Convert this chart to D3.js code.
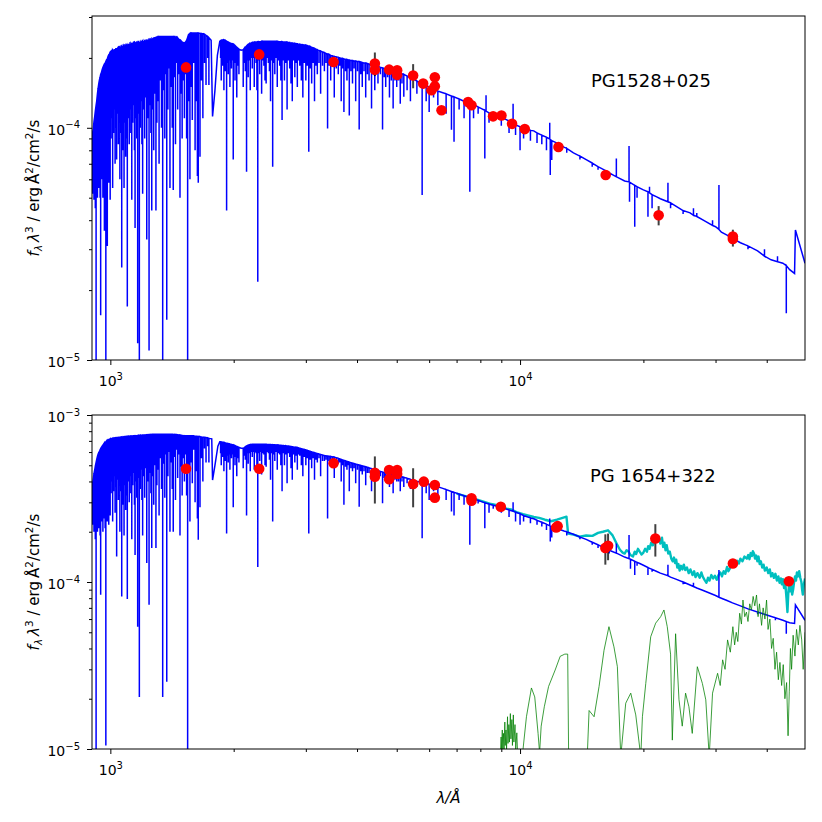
<!DOCTYPE html>
<html lang="en">
<head>
<meta charset="UTF-8">
<meta name="viewport" content="width=device-width, initial-scale=1.0">
<title>SED fits: PG1528+025 and PG 1654+322</title>
<script src="https://d3js.org/d3.v7.min.js"></script>
<style>
    body {
        margin: 0;
        background: #fff;
    }

    svg {
        display: block;
        font-family: "DejaVu Sans", sans-serif;
    }
</style>
</head>
<body>
<svg id="chart" width="822" height="822"></svg>
<script>
    // ---- data ------------------------------------------------------------
    // model spectra: [lambda, flux] is a plain point, [lambda, flux, lineFlux] is a line spike
    const topModel = [
        [902, 0.91e-4, 0.6e-4], [905, 0.95e-4, 0.52e-4], [909, 1.0e-4, 0.7e-4], [912, 1.06e-4, 0.49e-4],
        [916, 1.12e-4, 0.62e-4], [919, 1.18e-4, 0.45e-4], [923, 1.25e-4, 0.05e-4], [926, 1.3e-4, 0.6e-4],
        [930, 1.4e-4, 0.5e-4], [933, 1.47e-4, 0.7e-4], [937, 1.55e-4, 0.55e-4], [940, 1.6e-4, 0.65e-4],
        [944, 1.65e-4, 0.5e-4], [947, 1.7e-4, 0.156e-4], [951, 1.73e-4, 0.6e-4], [955, 1.78e-4, 0.68e-4],
        [959, 1.82e-4, 0.5e-4], [963, 1.85e-4, 0.72e-4], [967, 1.88e-4, 0.36e-4], [971, 1.9e-4, 0.55e-4],
        [975, 1.93e-4, 0.05e-4], [979, 1.96e-4, 0.7e-4], [983, 1.98e-4, 0.31e-4], [987, 2.03e-4, 0.75e-4],
        [991, 2.06e-4, 0.58e-4], [995, 2.08e-4, 0.8e-4], [999, 2.12e-4, 0.49e-4],
        [1004, 2.14e-4, 0.9e-4], [1009, 2.1e-4, 1.1e-4], [1013, 2.16e-4, 0.55e-4], [1018, 2.13e-4, 0.95e-4],
        [1023, 2.18e-4, 1.2e-4], [1027, 2.15e-4, 0.7e-4], [1032, 2.2e-4, 1.0e-4], [1036, 2.17e-4, 0.73e-4],
        [1041, 2.2e-4, 1.15e-4], [1046, 2.22e-4, 0.85e-4], [1050, 2.19e-4, 1.05e-4], [1055, 2.22e-4, 0.6e-4],
        [1060, 2.2e-4, 0.95e-4], [1066, 2.24e-4, 0.25e-4], [1070, 2.22e-4, 1.1e-4], [1075, 2.25e-4, 0.8e-4],
        [1080, 2.23e-4, 0.55e-4], [1085, 2.26e-4, 1.05e-4], [1090, 2.24e-4, 0.75e-4], [1095, 2.27e-4, 0.9e-4],
        [1100, 2.27e-4, 0.17e-4], [1106, 2.28e-4, 1.1e-4], [1112, 2.27e-4, 0.85e-4], [1117, 2.3e-4, 1.2e-4],
        [1122, 2.28e-4, 0.95e-4], [1128, 2.3e-4, 0.49e-4], [1134, 2.29e-4, 1.05e-4], [1140, 2.32e-4, 1.25e-4],
        [1145, 2.3e-4, 0.8e-4], [1149, 2.33e-4, 0.37e-4], [1155, 2.31e-4, 1.1e-4], [1160, 2.33e-4, 0.9e-4],
        [1166, 2.32e-4, 0.118e-4], [1171, 2.34e-4, 1.15e-4], [1177, 2.33e-4, 0.05e-4], [1183, 2.34e-4, 1.0e-4],
        [1189, 2.35e-4, 1.3e-4], [1194, 2.33e-4, 0.85e-4], [1199, 2.36e-4, 0.52e-4], [1206, 2.34e-4, 1.2e-4],
        [1213, 2.37e-4, 0.9e-4], [1220, 2.36e-4, 1.35e-4], [1227, 2.38e-4, 0.33e-4], [1234, 2.37e-4, 1.1e-4],
        [1243, 2.4e-4, 0.11e-4], [1250, 2.38e-4, 1.25e-4], [1256, 2.41e-4, 0.95e-4], [1262, 2.4e-4, 0.44e-4],
        [1269, 2.42e-4, 1.2e-4], [1276, 2.43e-4, 0.8e-4], [1284, 2.44e-4, 1.4e-4], [1292, 2.45e-4, 0.44e-4],
        [1299, 2.46e-4, 1.05e-4], [1307, 2.47e-4, 1.3e-4], [1315, 2.47e-4, 0.7e-4], [1324, 2.47e-4, 1.6e-4],
        [1333, 2.47e-4, 1.0e-4], [1342, 2.47e-4, 0.05e-4], [1350, 2.47e-4, 1.45e-4], [1358, 2.47e-4, 0.9e-4],
        [1366, 2.47e-4, 1.7e-4], [1373, 2.47e-4, 0.149e-4], [1382, 2.47e-4, 1.2e-4], [1390, 2.47e-4, 1.8e-4],
        [1398, 2.47e-4, 0.55e-4], [1407, 2.47e-4, 1.5e-4], [1416, 2.47e-4, 1.0e-4], [1424, 2.47e-4, 0.54e-4],
        [1433, 2.47e-4, 1.65e-4], [1442, 2.46e-4, 0.85e-4], [1450, 2.46e-4, 1.9e-4], [1460, 2.44e-4, 1.2e-4],
        [1470, 2.4e-4, 1.7e-4], [1479, 2.39e-4, 0.5e-4], [1488, 2.37e-4, 1.4e-4], [1497, 2.34e-4, 0.9e-4],
        [1506, 2.33e-4, 1.6e-4], [1516, 2.32e-4, 1.1e-4], [1526, 2.34e-4, 1.7e-4], [1535, 2.38e-4, 0.9e-4],
        [1544, 2.45e-4, 0.05e-4], [1552, 2.52e-4, 1.3e-4], [1564, 2.55e-4, 0.6e-4], [1574, 2.56e-4, 1.5e-4],
        [1585, 2.56e-4, 1.08e-4], [1597, 2.56e-4, 1.9e-4], [1610, 2.56e-4, 0.8e-4], [1622, 2.56e-4, 1.3e-4],
        [1631, 2.56e-4, 0.62e-4], [1639, 2.56e-4, 0.58e-4], [1655, 2.55e-4, 0.75e-4], [1668, 2.55e-4, 1.6e-4],
        [1682, 2.54e-4, 1.1e-4], [1697, 2.53e-4, 1.9e-4], [1712, 2.5e-4, 1.53e-4], [1728, 2.47e-4, 2.0e-4],
        [1740, 2.44e-4, 1.53e-4], [1762, 2.38e-4], [1776, 1.12e-4], [1800, 1.45e-4], [1825, 2.05e-4],
        [1850, 2.36e-4], [1858, 2.37e-4, 2.0e-4], [1865, 2.38e-4, 1.6e-4], [1872, 2.38e-4, 1.95e-4],
        [1880, 2.39e-4, 1.85e-4], [1887, 2.39e-4, 2.05e-4], [1893, 2.39e-4, 1.45e-4], [1900, 2.38e-4, 1.9e-4],
        [1908, 2.38e-4, 1.75e-4], [1915, 2.37e-4, 2.0e-4], [1922, 2.36e-4, 0.44e-4], [1931, 2.35e-4, 1.9e-4],
        [1940, 2.34e-4, 1.7e-4], [1949, 2.33e-4, 1.95e-4], [1958, 2.32e-4, 1.5e-4], [1967, 2.31e-4, 1.9e-4],
        [1975, 2.3e-4, 1.8e-4], [1985, 2.3e-4, 1.95e-4], [1995, 2.29e-4, 0.73e-4], [2005, 2.28e-4, 1.9e-4],
        [2015, 2.26e-4, 1.6e-4], [2025, 2.24e-4, 1.9e-4], [2035, 2.22e-4, 1.35e-4], [2048, 2.2e-4, 1.85e-4],
        [2060, 2.18e-4, 1.7e-4], [2085, 2.16e-4], [2110, 2.17e-4, 1.5e-4], [2122, 2.2e-4, 1.9e-4],
        [2135, 2.22e-4, 1.75e-4], [2150, 2.25e-4, 0.647e-4], [2160, 2.27e-4, 1.95e-4], [2170, 2.28e-4, 1.65e-4],
        [2182, 2.3e-4, 1.95e-4], [2195, 2.31e-4, 1.45e-4], [2207, 2.32e-4, 2.0e-4], [2220, 2.33e-4, 1.8e-4],
        [2232, 2.33e-4, 2.0e-4], [2245, 2.34e-4, 1.5e-4], [2256, 2.34e-4, 2.0e-4], [2268, 2.34e-4, 1.9e-4],
        [2279, 2.34e-4, 1.45e-4], [2290, 2.35e-4, 0.217e-4], [2302, 2.35e-4, 1.95e-4], [2315, 2.35e-4, 1.7e-4],
        [2328, 2.35e-4, 2.0e-4], [2340, 2.36e-4, 1.4e-4], [2355, 2.36e-4, 1.95e-4], [2370, 2.36e-4, 1.85e-4],
        [2385, 2.36e-4, 1.6e-4], [2400, 2.36e-4, 1.55e-4], [2415, 2.36e-4, 2.0e-4], [2430, 2.36e-4, 1.9e-4],
        [2445, 2.36e-4, 1.75e-4], [2460, 2.36e-4, 1.3e-4], [2475, 2.36e-4, 1.95e-4], [2490, 2.36e-4, 0.68e-4],
        [2505, 2.36e-4, 1.9e-4], [2520, 2.36e-4, 1.7e-4], [2537, 2.36e-4, 2.0e-4], [2555, 2.36e-4, 1.5e-4],
        [2572, 2.35e-4, 1.95e-4], [2590, 2.35e-4, 1.85e-4], [2607, 2.35e-4, 1.6e-4], [2625, 2.35e-4, 1.08e-4],
        [2642, 2.34e-4, 1.95e-4], [2660, 2.34e-4, 1.6e-4], [2680, 2.34e-4, 1.9e-4], [2700, 2.34e-4, 1.2e-4],
        [2720, 2.33e-4, 1.95e-4], [2740, 2.33e-4, 1.8e-4], [2760, 2.32e-4, 1.55e-4], [2780, 2.32e-4, 1.3e-4],
        [2800, 2.31e-4, 1.95e-4], [2820, 2.31e-4, 1.65e-4], [2840, 2.3e-4, 1.9e-4], [2860, 2.3e-4, 1.5e-4],
        [2880, 2.29e-4, 1.95e-4], [2900, 2.29e-4, 1.85e-4], [2925, 2.28e-4, 1.6e-4], [2950, 2.28e-4, 1.35e-4],
        [2975, 2.27e-4, 1.9e-4], [3000, 2.27e-4, 1.6e-4], [3025, 2.26e-4, 1.85e-4], [3050, 2.25e-4, 0.788e-4],
        [3075, 2.24e-4, 1.8e-4], [3100, 2.22e-4, 1.55e-4], [3125, 2.21e-4, 1.9e-4], [3150, 2.2e-4, 1.3e-4],
        [3175, 2.18e-4, 1.85e-4], [3200, 2.17e-4, 1.7e-4], [3230, 2.15e-4, 1.9e-4], [3260, 2.14e-4, 1.4e-4],
        [3295, 2.12e-4, 1.85e-4], [3330, 2.11e-4, 1.75e-4], [3360, 2.09e-4, 1.9e-4], [3390, 2.08e-4, 0.994e-4],
        [3420, 2.07e-4, 1.85e-4], [3450, 2.05e-4, 1.6e-4], [3485, 2.04e-4, 1.85e-4], [3520, 2.03e-4, 1.35e-4],
        [3560, 2.02e-4, 1.8e-4], [3600, 2.01e-4, 1.7e-4], [3630, 2.0e-4, 1.85e-4], [3660, 1.99e-4, 1.3e-4],
        [3690, 1.99e-4, 1.8e-4], [3716, 1.98e-4, 1.17e-4], [3750, 1.97e-4, 1.75e-4], [3780, 1.97e-4, 1.6e-4],
        [3805, 1.96e-4, 1.8e-4], [3830, 1.96e-4, 1.13e-4], [3865, 1.95e-4, 1.75e-4], [3900, 1.95e-4, 1.55e-4],
        [3935, 1.94e-4, 1.8e-4], [3970, 1.94e-4, 1.3e-4], [4010, 1.93e-4, 1.75e-4], [4049, 1.93e-4, 0.984e-4],
        [4085, 1.92e-4, 1.7e-4], [4120, 1.91e-4, 1.5e-4], [4160, 1.9e-4, 1.75e-4], [4200, 1.9e-4, 1.35e-4],
        [4240, 1.89e-4, 1.7e-4], [4280, 1.88e-4, 1.6e-4], [4340, 1.87e-4, 1.21e-4], [4380, 1.86e-4, 1.7e-4],
        [4420, 1.85e-4, 1.45e-4], [4460, 1.84e-4, 1.7e-4], [4500, 1.84e-4, 1.55e-4], [4560, 1.82e-4, 1.7e-4],
        [4617, 1.81e-4, 0.984e-4], [4660, 1.8e-4, 1.65e-4], [4700, 1.79e-4, 1.5e-4], [4750, 1.78e-4, 1.65e-4],
        [4800, 1.77e-4, 1.35e-4], [4850, 1.76e-4, 1.6e-4], [4900, 1.76e-4, 1.21e-4], [4950, 1.75e-4, 1.6e-4],
        [5000, 1.74e-4, 1.5e-4], [5050, 1.73e-4, 1.6e-4], [5100, 1.72e-4, 1.27e-4], [5150, 1.71e-4, 1.55e-4],
        [5203, 1.7e-4, 1.36e-4], [5300, 1.67e-4, 1.45e-4], [5400, 1.64e-4, 1.3e-4], [5500, 1.62e-4],
        [5600, 1.59e-4, 1.4e-4], [5768, 1.55e-4, 0.513e-4], [5900, 1.52e-4, 1.3e-4], [6000, 1.5e-4, 1.17e-4],
        [6150, 1.47e-4, 1.35e-4], [6300, 1.44e-4, 1.25e-4], [6450, 1.42e-4], [6600, 1.4e-4, 1.15e-4],
        [6801, 1.37e-4, 0.98e-4], [6900, 1.36e-4, 0.87e-4], [7100, 1.33e-4, 1.2e-4], [7300, 1.3e-4, 1.1e-4],
        [7540, 1.28e-4, 0.53e-4], [7700, 1.26e-4, 1.1e-4], [7900, 1.23e-4, 1.15e-4], [8050, 1.21e-4],
        [8203, 1.19e-4, 0.738e-4], [8260, 1.18e-4, 1.38e-4], [8400, 1.16e-4, 1.05e-4], [8600, 1.14e-4, 1.08e-4],
        [8800, 1.13e-4], [9000, 1.11e-4, 1.02e-4], [9200, 1.09e-4], [9400, 1.07e-4, 0.95e-4],
        [9616, 1.05e-4, 1.27e-4], [9750, 1.03e-4, 0.93e-4], [10000, 1.01e-4, 0.8e-4], [10200, 0.995e-4, 0.9e-4],
        [10400, 0.985e-4], [10600, 0.975e-4, 0.88e-4], [10800, 0.97e-4], [11000, 0.95e-4, 0.86e-4],
        [11300, 0.93e-4, 0.85e-4], [11600, 0.91e-4, 0.8e-4], [11815, 0.895e-4, 1.05e-4], [11850, 0.89e-4, 0.626e-4],
        [11950, 0.88e-4, 0.726e-4], [12200, 0.865e-4], [12500, 0.845e-4], [12800, 0.825e-4],
        [13000, 0.815e-4, 0.78e-4], [13500, 0.78e-4], [14000, 0.755e-4, 0.73e-4], [14500, 0.73e-4],
        [15000, 0.705e-4, 0.68e-4], [15500, 0.68e-4, 0.66e-4], [16000, 0.66e-4], [16500, 0.64e-4, 0.61e-4],
        [17180, 0.615e-4, 0.738e-4], [17300, 0.612e-4], [18000, 0.59e-4], [18450, 0.585e-4, 0.834e-4],
        [18500, 0.583e-4, 0.48e-4], [19050, 0.565e-4, 0.375e-4], [19300, 0.558e-4, 0.5e-4], [19600, 0.55e-4],
        [20000, 0.54e-4], [20520, 0.53e-4, 0.414e-4], [20700, 0.525e-4, 0.557e-4], [21000, 0.515e-4, 0.45e-4],
        [21500, 0.505e-4], [22000, 0.495e-4], [22960, 0.48e-4, 0.58e-4], [23300, 0.475e-4, 0.45e-4],
        [24000, 0.46e-4], [25000, 0.44e-4, 0.425e-4], [26000, 0.43e-4], [26500, 0.42e-4, 0.45e-4],
        [27000, 0.415e-4, 0.43e-4], [28000, 0.4e-4], [29500, 0.38e-4, 0.4e-4], [30000, 0.375e-4],
        [30580, 0.365e-4, 0.567e-4], [31000, 0.355e-4], [32000, 0.345e-4], [33000, 0.334e-4],
        [34500, 0.32e-4], [36000, 0.31e-4, 0.3e-4], [38000, 0.295e-4], [39500, 0.28e-4, 0.3e-4],
        [41000, 0.27e-4], [42500, 0.265e-4, 0.28e-4], [43800, 0.261e-4], [44650, 0.255e-4, 0.159e-4],
        [45500, 0.245e-4], [46770, 0.236e-4], [47000, 0.363e-4], [49600, 0.261e-4]
    ];

    const bottomModel = [
        [902, 3.65e-4, 2.6e-4], [905, 3.9e-4, 2.2e-4], [909, 4.2e-4, 2.7e-4], [912, 4.45e-4, 2.0e-4],
        [916, 4.7e-4, 2.5e-4], [919, 4.95e-4, 1.8e-4], [923, 5.2e-4, 0.05e-4], [926, 5.4e-4, 2.4e-4],
        [930, 5.65e-4, 2.0e-4], [933, 5.8e-4, 2.8e-4], [937, 5.95e-4, 2.1e-4], [940, 6.05e-4, 2.6e-4],
        [944, 6.17e-4, 1.9e-4], [947, 6.3e-4, 0.84e-4], [951, 6.4e-4, 2.3e-4], [955, 6.5e-4, 2.7e-4],
        [959, 6.6e-4, 2.0e-4], [963, 6.7e-4, 2.9e-4], [967, 6.8e-4, 2.4e-4], [971, 6.85e-4, 2.1e-4],
        [975, 6.9e-4, 0.105e-4], [979, 7.0e-4, 2.8e-4], [983, 7.05e-4, 2.3e-4], [987, 7.1e-4, 3.0e-4],
        [991, 7.12e-4, 2.2e-4], [995, 7.15e-4, 3.2e-4], [999, 7.2e-4, 2.5e-4],
        [1004, 7.22e-4, 3.4e-4], [1009, 7.2e-4, 4.0e-4], [1013, 7.25e-4, 2.3e-4], [1018, 7.23e-4, 3.5e-4],
        [1023, 7.28e-4, 4.3e-4], [1027, 7.25e-4, 2.6e-4], [1032, 7.3e-4, 3.7e-4], [1036, 7.28e-4, 1.42e-4],
        [1041, 7.32e-4, 4.1e-4], [1046, 7.33e-4, 3.1e-4], [1050, 7.3e-4, 3.8e-4], [1055, 7.35e-4, 2.0e-4],
        [1060, 7.33e-4, 3.5e-4], [1066, 7.38e-4, 0.82e-4], [1070, 7.36e-4, 4.0e-4], [1075, 7.4e-4, 2.9e-4],
        [1080, 7.38e-4, 1.9e-4], [1085, 7.42e-4, 3.8e-4], [1090, 7.4e-4, 2.7e-4], [1095, 7.43e-4, 3.3e-4],
        [1100, 7.42e-4, 0.79e-4], [1106, 7.45e-4, 4.0e-4], [1112, 7.44e-4, 3.0e-4], [1117, 7.47e-4, 4.3e-4],
        [1122, 7.45e-4, 3.4e-4], [1128, 7.48e-4, 1.8e-4], [1134, 7.46e-4, 3.8e-4], [1140, 7.5e-4, 4.5e-4],
        [1145, 7.48e-4, 2.9e-4], [1149, 7.5e-4, 1.45e-4], [1155, 7.5e-4, 4.0e-4], [1160, 7.52e-4, 3.2e-4],
        [1166, 7.52e-4, 0.54e-4], [1171, 7.55e-4, 4.2e-4], [1177, 7.54e-4, 0.205e-4], [1183, 7.56e-4, 3.6e-4],
        [1189, 7.57e-4, 4.7e-4], [1194, 7.56e-4, 3.1e-4], [1199, 7.58e-4, 1.9e-4], [1206, 7.58e-4, 4.3e-4],
        [1213, 7.6e-4, 3.2e-4], [1220, 7.6e-4, 4.8e-4], [1227, 7.62e-4, 1.3e-4], [1234, 7.62e-4, 4.0e-4],
        [1243, 7.64e-4, 0.73e-4], [1250, 7.64e-4, 4.5e-4], [1256, 7.65e-4, 3.4e-4], [1262, 7.65e-4, 1.6e-4],
        [1269, 7.66e-4, 4.3e-4], [1276, 7.66e-4, 2.9e-4], [1284, 7.66e-4, 5.0e-4], [1292, 7.66e-4, 1.6e-4],
        [1299, 7.66e-4, 3.8e-4], [1307, 7.66e-4, 4.7e-4], [1315, 7.66e-4, 2.5e-4], [1324, 7.66e-4, 5.5e-4],
        [1333, 7.66e-4, 3.6e-4], [1342, 7.66e-4, 0.205e-4], [1350, 7.66e-4, 5.1e-4], [1358, 7.66e-4, 3.2e-4],
        [1366, 7.66e-4, 5.8e-4], [1373, 7.66e-4, 0.253e-4], [1382, 7.66e-4, 4.3e-4], [1390, 7.66e-4, 6.0e-4],
        [1398, 7.66e-4, 2.0e-4], [1407, 7.66e-4, 5.2e-4], [1416, 7.66e-4, 3.6e-4], [1424, 7.65e-4, 2.0e-4],
        [1433, 7.65e-4, 5.6e-4], [1442, 7.64e-4, 3.1e-4], [1450, 7.64e-4, 6.2e-4], [1460, 7.62e-4, 4.2e-4],
        [1470, 7.6e-4, 5.8e-4], [1479, 7.59e-4, 1.9e-4], [1488, 7.57e-4, 4.9e-4], [1497, 7.55e-4, 3.3e-4],
        [1506, 7.53e-4, 5.5e-4], [1516, 7.52e-4, 4.0e-4], [1526, 7.5e-4, 5.8e-4], [1535, 7.5e-4, 3.3e-4],
        [1544, 7.5e-4, 0.05e-4], [1552, 7.5e-4, 4.6e-4], [1564, 7.5e-4, 2.3e-4], [1574, 7.5e-4, 5.2e-4],
        [1585, 7.5e-4, 3.9e-4], [1597, 7.5e-4, 6.2e-4], [1610, 7.48e-4, 3.0e-4], [1622, 7.46e-4, 4.6e-4],
        [1631, 7.45e-4, 2.4e-4], [1639, 7.44e-4, 1.79e-4], [1655, 7.42e-4, 2.8e-4], [1668, 7.4e-4, 5.5e-4],
        [1682, 7.38e-4, 4.0e-4], [1697, 7.35e-4, 6.3e-4], [1712, 7.32e-4, 5.2e-4], [1728, 7.3e-4, 6.5e-4],
        [1740, 7.25e-4, 5.2e-4], [1768, 7.2e-4], [1776, 4.08e-4], [1800, 5.0e-4], [1830, 6.5e-4],
        [1850, 6.92e-4], [1858, 6.91e-4, 5.9e-4], [1865, 6.9e-4, 5.0e-4], [1872, 6.89e-4, 5.8e-4],
        [1880, 6.88e-4, 5.6e-4], [1887, 6.87e-4, 6.0e-4], [1893, 6.85e-4, 4.6e-4], [1900, 6.84e-4, 5.7e-4],
        [1908, 6.82e-4, 5.3e-4], [1915, 6.8e-4, 5.9e-4], [1922, 6.78e-4, 1.95e-4], [1931, 6.76e-4, 5.7e-4],
        [1940, 6.74e-4, 5.2e-4], [1949, 6.72e-4, 5.8e-4], [1958, 6.7e-4, 4.7e-4], [1967, 6.68e-4, 5.7e-4],
        [1975, 6.67e-4, 5.5e-4], [1985, 6.65e-4, 5.8e-4], [1995, 6.62e-4, 2.8e-4], [2005, 6.6e-4, 5.6e-4],
        [2015, 6.55e-4, 5.0e-4], [2025, 6.52e-4, 5.6e-4], [2035, 6.48e-4, 4.3e-4], [2048, 6.44e-4, 5.5e-4],
        [2060, 6.4e-4, 5.2e-4], [2085, 6.33e-4], [2110, 6.32e-4, 4.8e-4], [2122, 6.38e-4, 5.7e-4],
        [2135, 6.45e-4, 5.4e-4], [2150, 6.52e-4, 2.5e-4], [2160, 6.56e-4, 5.9e-4], [2170, 6.6e-4, 5.1e-4],
        [2182, 6.62e-4, 5.9e-4], [2195, 6.65e-4, 4.6e-4], [2207, 6.66e-4, 6.0e-4], [2220, 6.67e-4, 5.6e-4],
        [2232, 6.67e-4, 6.0e-4], [2245, 6.67e-4, 4.7e-4], [2256, 6.67e-4, 6.0e-4], [2268, 6.67e-4, 5.9e-4],
        [2279, 6.67e-4, 4.6e-4], [2290, 6.67e-4, 1.23e-4], [2302, 6.67e-4, 5.9e-4], [2315, 6.67e-4, 5.3e-4],
        [2328, 6.67e-4, 6.0e-4], [2340, 6.67e-4, 4.4e-4], [2355, 6.67e-4, 5.9e-4], [2370, 6.67e-4, 5.8e-4],
        [2385, 6.67e-4, 5.0e-4], [2400, 6.67e-4, 4.9e-4], [2415, 6.66e-4, 6.0e-4], [2430, 6.66e-4, 5.9e-4],
        [2445, 6.65e-4, 5.4e-4], [2460, 6.65e-4, 4.1e-4], [2475, 6.64e-4, 5.9e-4], [2490, 6.64e-4, 2.3e-4],
        [2505, 6.63e-4, 5.8e-4], [2520, 6.63e-4, 5.3e-4], [2537, 6.62e-4, 6.0e-4], [2555, 6.62e-4, 4.7e-4],
        [2572, 6.61e-4, 5.9e-4], [2590, 6.6e-4, 5.8e-4], [2607, 6.59e-4, 5.0e-4], [2625, 6.58e-4, 3.5e-4],
        [2642, 6.57e-4, 5.9e-4], [2660, 6.56e-4, 5.0e-4], [2680, 6.55e-4, 5.8e-4], [2700, 6.53e-4, 3.9e-4],
        [2720, 6.52e-4, 5.9e-4], [2740, 6.5e-4, 5.6e-4], [2760, 6.48e-4, 4.8e-4], [2780, 6.47e-4, 4.1e-4],
        [2800, 6.45e-4, 5.8e-4], [2820, 6.43e-4, 5.2e-4], [2840, 6.41e-4, 5.7e-4], [2860, 6.39e-4, 4.7e-4],
        [2880, 6.36e-4, 5.8e-4], [2900, 6.32e-4, 5.7e-4], [2925, 6.28e-4, 5.0e-4], [2950, 6.25e-4, 4.3e-4],
        [2975, 6.22e-4, 5.6e-4], [3000, 6.18e-4, 5.0e-4], [3025, 6.14e-4, 5.5e-4], [3050, 6.1e-4, 1.95e-4],
        [3075, 6.06e-4, 5.4e-4], [3100, 6.02e-4, 4.8e-4], [3125, 5.98e-4, 5.5e-4], [3150, 5.95e-4, 4.1e-4],
        [3175, 5.92e-4, 5.4e-4], [3200, 5.88e-4, 5.2e-4], [3230, 5.84e-4, 5.5e-4], [3260, 5.8e-4, 4.3e-4],
        [3295, 5.76e-4, 5.3e-4], [3330, 5.72e-4, 5.3e-4], [3360, 5.7e-4, 5.4e-4], [3390, 5.68e-4, 2.4e-4],
        [3420, 5.66e-4, 5.3e-4], [3450, 5.65e-4, 4.9e-4], [3485, 5.62e-4, 5.3e-4], [3520, 5.6e-4, 4.2e-4],
        [3560, 5.55e-4, 5.2e-4], [3600, 5.5e-4, 5.1e-4], [3630, 5.46e-4, 5.2e-4], [3660, 5.42e-4, 4.0e-4],
        [3690, 5.38e-4, 5.0e-4], [3716, 5.35e-4, 2.9e-4], [3750, 5.32e-4, 4.9e-4], [3780, 5.28e-4, 4.7e-4],
        [3805, 5.25e-4, 5.0e-4], [3830, 5.22e-4, 3.5e-4], [3865, 5.18e-4, 4.8e-4], [3900, 5.15e-4, 4.6e-4],
        [3935, 5.12e-4, 4.8e-4], [3970, 5.08e-4, 3.9e-4], [4010, 5.05e-4, 4.7e-4], [4049, 5.02e-4, 2.82e-4],
        [4085, 4.99e-4, 4.6e-4], [4120, 4.96e-4, 4.4e-4], [4160, 4.93e-4, 4.6e-4], [4200, 4.9e-4, 3.8e-4],
        [4240, 4.86e-4, 4.5e-4], [4280, 4.83e-4, 4.5e-4], [4340, 4.77e-4, 3.5e-4], [4380, 4.73e-4, 4.4e-4],
        [4420, 4.7e-4, 4.1e-4], [4460, 4.66e-4, 4.4e-4], [4500, 4.63e-4, 4.3e-4], [4560, 4.59e-4, 4.3e-4],
        [4617, 4.55e-4, 2.96e-4], [4660, 4.52e-4, 4.2e-4], [4700, 4.5e-4, 4.1e-4], [4750, 4.47e-4, 4.2e-4],
        [4800, 4.44e-4, 3.7e-4], [4850, 4.41e-4, 4.1e-4], [4900, 4.38e-4, 3.4e-4], [4950, 4.36e-4, 4.1e-4],
        [5000, 4.34e-4, 4.0e-4], [5050, 4.32e-4, 4.0e-4], [5100, 4.3e-4, 3.5e-4], [5150, 4.27e-4, 4.0e-4],
        [5203, 4.24e-4, 3.7e-4], [5300, 4.18e-4, 3.9e-4], [5400, 4.12e-4, 3.6e-4], [5500, 4.06e-4],
        [5600, 4.0e-4, 3.7e-4], [5768, 3.95e-4, 1.83e-4], [5900, 3.9e-4, 3.4e-4], [6000, 3.85e-4, 3.1e-4],
        [6150, 3.8e-4, 3.5e-4], [6300, 3.72e-4, 3.3e-4], [6450, 3.65e-4], [6600, 3.58e-4, 3.1e-4],
        [6801, 3.48e-4, 2.64e-4], [6900, 3.44e-4, 2.5e-4], [7100, 3.36e-4, 3.1e-4], [7300, 3.28e-4, 2.9e-4],
        [7540, 3.2e-4, 1.67e-4], [7700, 3.15e-4, 2.9e-4], [7900, 3.08e-4, 2.95e-4], [8050, 3.03e-4],
        [8203, 2.98e-4, 2.1e-4], [8400, 2.93e-4, 2.6e-4], [8600, 2.88e-4, 2.75e-4], [8800, 2.84e-4],
        [9000, 2.8e-4, 2.6e-4], [9200, 2.75e-4], [9400, 2.7e-4, 2.45e-4], [9616, 2.65e-4, 3.0e-4],
        [9750, 2.62e-4, 2.3e-4], [10000, 2.56e-4, 2.2e-4], [10200, 2.5e-4, 2.3e-4], [10400, 2.46e-4],
        [10600, 2.42e-4, 2.25e-4], [10800, 2.39e-4], [11000, 2.34e-4, 2.2e-4], [11300, 2.28e-4, 2.15e-4],
        [11600, 2.22e-4, 2.05e-4], [11815, 2.17e-4, 2.4e-4], [11850, 2.16e-4, 1.75e-4], [11950, 2.14e-4, 1.85e-4],
        [12200, 2.1e-4], [12500, 2.06e-4], [12800, 2.02e-4], [13000, 2.0e-4, 1.9e-4], [13500, 1.93e-4],
        [14000, 1.86e-4, 1.8e-4], [14500, 1.8e-4], [15000, 1.73e-4, 1.67e-4], [15500, 1.67e-4, 1.6e-4],
        [16000, 1.61e-4], [16500, 1.55e-4, 1.48e-4], [17180, 1.49e-4, 1.7e-4], [17300, 1.48e-4],
        [18000, 1.41e-4], [18450, 1.38e-4, 1.91e-4], [18600, 1.37e-4, 1.2e-4], [19050, 1.33e-4, 1.1e-4],
        [19300, 1.31e-4, 1.25e-4], [19600, 1.29e-4], [20000, 1.26e-4], [20520, 1.22e-4, 1.1e-4],
        [21000, 1.19e-4, 1.15e-4], [21500, 1.16e-4], [22000, 1.13e-4], [22960, 1.09e-4, 1.27e-4],
        [23300, 1.07e-4], [24000, 1.04e-4], [25000, 1.0e-4, 0.97e-4], [26000, 0.96e-4],
        [26500, 0.94e-4, 0.99e-4], [27000, 0.92e-4], [28000, 0.89e-4], [30000, 0.83e-4],
        [30580, 0.81e-4, 1.18e-4], [31000, 0.8e-4], [32000, 0.775e-4], [33000, 0.75e-4], [34500, 0.72e-4],
        [36000, 0.69e-4], [38000, 0.66e-4, 0.64e-4], [40000, 0.635e-4], [42000, 0.61e-4, 0.59e-4],
        [43800, 0.59e-4], [44650, 0.58e-4, 0.49e-4], [45500, 0.57e-4], [46770, 0.565e-4], [47000, 0.73e-4],
        [49600, 0.59e-4]
    ];

    // composite (primary + companion) for PG 1654+322
    const bottomTotal = [
        [7000, 3.38e-4], [7500, 3.22e-4], [8000, 3.07e-4], [8500, 2.93e-4], [8900, 2.86e-4], [9264, 2.75e-4],
        [9500, 2.72e-4], [9800, 2.62e-4], [10170, 2.55e-4], [10500, 2.5e-4], [10800, 2.45e-4], [11130, 2.42e-4],
        [11500, 2.36e-4], [11900, 2.31e-4], [12300, 2.36e-4], [12700, 2.42e-4], [12980, 2.46e-4], [13100, 1.95e-4],
        [13500, 1.92e-4], [13980, 1.87e-4], [14500, 1.9e-4], [15020, 1.89e-4], [15500, 1.97e-4], [15930, 2.0e-4],
        [16390, 2.04e-4], [16800, 1.91e-4], [17200, 1.7e-4], [17530, 1.56e-4], [17800, 1.5e-4], [18000, 1.48e-4],
        [18200, 1.55e-4], [18400, 1.52e-4], [18600, 1.45e-4], [18860, 1.42e-4], [19050, 1.52e-4], [19200, 1.47e-4],
        [19400, 1.58e-4], [19590, 1.52e-4], [19800, 1.46e-4], [20000, 1.5e-4], [20200, 1.58e-4], [20400, 1.52e-4],
        [20550, 1.64e-4], [20700, 1.58e-4], [20900, 1.72e-4], [21090, 1.66e-4], [21250, 1.8e-4], [21400, 1.87e-4],
        [21600, 1.74e-4], [21800, 1.82e-4], [22000, 1.7e-4], [22200, 1.84e-4], [22350, 1.62e-4], [22500, 1.72e-4],
        [22650, 1.55e-4], [22800, 1.66e-4], [23000, 1.48e-4], [23200, 1.52e-4], [23400, 1.38e-4], [23590, 1.33e-4],
        [23750, 1.4e-4], [23900, 1.3e-4], [24050, 1.36e-4], [24200, 1.22e-4], [24350, 1.28e-4], [24520, 1.17e-4],
        [24700, 1.25e-4], [24900, 1.19e-4], [25100, 1.27e-4], [25300, 1.18e-4], [25550, 1.22e-4], [25800, 1.13e-4],
        [26050, 1.19e-4], [26360, 1.1e-4], [26600, 1.16e-4], [26800, 1.07e-4], [27100, 1.13e-4], [27440, 1.06e-4],
        [27700, 1.14e-4], [27900, 1.08e-4], [28200, 1.03e-4], [28510, 0.99e-4], [28750, 1.06e-4], [29000, 1.02e-4],
        [29300, 1.1e-4], [29600, 1.05e-4], [29900, 1.09e-4], [30200, 1.03e-4], [30500, 1.1e-4], [30820, 1.14e-4],
        [31100, 1.08e-4], [31400, 1.16e-4], [31700, 1.12e-4], [32000, 1.23e-4], [32250, 1.16e-4], [32500, 1.2e-4],
        [32800, 1.27e-4], [33070, 1.24e-4], [33350, 1.31e-4], [33600, 1.25e-4], [33900, 1.34e-4], [34200, 1.29e-4],
        [34500, 1.38e-4], [34900, 1.33e-4], [35300, 1.42e-4], [35770, 1.38e-4], [36050, 1.45e-4], [36300, 1.37e-4],
        [36550, 1.49e-4], [36800, 1.43e-4], [37000, 1.53e-4], [37240, 1.48e-4], [37450, 1.38e-4], [37700, 1.44e-4],
        [37950, 1.33e-4], [38200, 1.42e-4], [38450, 1.28e-4], [38700, 1.33e-4], [39000, 1.22e-4], [39300, 1.27e-4],
        [39600, 1.17e-4], [40000, 1.22e-4], [40350, 1.13e-4], [40700, 1.19e-4], [41000, 1.08e-4], [41300, 1.13e-4],
        [41650, 1.06e-4], [42000, 1.12e-4], [42350, 1.02e-4], [42700, 1.08e-4], [43000, 0.99e-4], [43300, 1.05e-4],
        [43550, 0.97e-4], [43800, 1.04e-4], [44100, 0.92e-4], [44400, 0.98e-4], [44700, 0.8e-4], [44940, 0.66e-4],
        [45150, 0.85e-4], [45400, 1.0e-4], [45650, 0.88e-4], [45900, 0.95e-4], [46150, 0.84e-4], [46400, 0.9e-4],
        [46650, 1.0e-4], [46900, 1.08e-4], [47150, 1.02e-4], [47400, 1.14e-4], [47700, 1.08e-4], [48000, 1.16e-4],
        [48300, 1.06e-4], [48600, 1.0e-4], [48800, 0.9e-4], [49000, 0.84e-4], [49250, 0.96e-4], [49600, 1.05e-4]
    ];

    // cool companion for PG 1654+322
    const bottomCompanion = [
        [8960, 0.095e-4], [8990, 0.118e-4], [9010, 0.098e-4], [9050, 0.13e-4], [9075, 0.1e-4], [9110, 0.124e-4],
        [9140, 0.1e-4], [9180, 0.145e-4], [9200, 0.105e-4], [9240, 0.13e-4], [9270, 0.1e-4], [9320, 0.156e-4],
        [9345, 0.108e-4], [9390, 0.14e-4], [9420, 0.11e-4], [9470, 0.163e-4], [9500, 0.115e-4], [9550, 0.15e-4],
        [9580, 0.105e-4], [9630, 0.16e-4], [9660, 0.11e-4], [9720, 0.14e-4], [9760, 0.1e-4], [9820, 0.125e-4],
        [9870, 0.09e-4], [9990, 0.08e-4], [10170, 0.1e-4], [10366, 0.156e-4], [10660, 0.232e-4], [10860, 0.205e-4],
        [11065, 0.124e-4], [11160, 0.095e-4], [11260, 0.137e-4], [11460, 0.179e-4], [11740, 0.237e-4],
        [12180, 0.297e-4], [12530, 0.359e-4], [12860, 0.37e-4], [13070, 0.37e-4], [13140, 0.09e-4],
        [14600, 0.095e-4], [14740, 0.17e-4], [15160, 0.156e-4], [15590, 0.237e-4], [16030, 0.39e-4],
        [16480, 0.54e-4], [16950, 0.409e-4], [17280, 0.311e-4], [17610, 0.09e-4], [18110, 0.188e-4],
        [18630, 0.216e-4], [19160, 0.16e-4], [19710, 0.09e-4], [19890, 0.156e-4], [20270, 0.247e-4],
        [20840, 0.47e-4], [21430, 0.567e-4], [22040, 0.62e-4], [22450, 0.68e-4], [22870, 0.54e-4],
        [23300, 0.37e-4], [23530, 0.113e-4], [23970, 0.49e-4], [24430, 0.197e-4], [24880, 0.137e-4],
        [25350, 0.216e-4], [25830, 0.179e-4], [26320, 0.124e-4], [27080, 0.311e-4], [27860, 0.247e-4],
        [28400, 0.197e-4], [28950, 0.09e-4], [29500, 0.216e-4], [30350, 0.284e-4], [30800, 0.24e-4],
        [31220, 0.342e-4], [31650, 0.3e-4], [32100, 0.45e-4], [32600, 0.38e-4], [33070, 0.54e-4],
        [33400, 0.42e-4], [33700, 0.5e-4], [34000, 0.44e-4], [34360, 0.65e-4], [34700, 0.56e-4],
        [35000, 0.78e-4], [35350, 0.62e-4], [35690, 0.66e-4], [36000, 0.58e-4], [36360, 0.74e-4],
        [36700, 0.68e-4], [37060, 0.82e-4], [37400, 0.72e-4], [37770, 0.836e-4], [38100, 0.62e-4],
        [38400, 0.74e-4], [38860, 0.55e-4], [39200, 0.7e-4], [39600, 0.6e-4], [39960, 0.78e-4],
        [40300, 0.52e-4], [40720, 0.6e-4], [41100, 0.4e-4], [41490, 0.46e-4], [41900, 0.3e-4],
        [42280, 0.38e-4], [42700, 0.26e-4], [43080, 0.33e-4], [43500, 0.24e-4], [43890, 0.32e-4],
        [44300, 0.2e-4], [44730, 0.25e-4], [45100, 0.12e-4], [45400, 0.22e-4], [45700, 0.4e-4],
        [46000, 0.3e-4], [46400, 0.48e-4], [46870, 0.36e-4], [47300, 0.52e-4], [47770, 0.42e-4],
        [48200, 0.55e-4], [48690, 0.45e-4], [49100, 0.3e-4], [49620, 0.5e-4]
    ];

    // photometry [lambda, flux] and error bars [lambda, flux, error]
    const topPhot = [
        [1530, 1.82e-4], [2308, 2.07e-4], [3506, 1.92e-4], [4422, 1.89e-4], [4422, 1.78e-4], [4791, 1.78e-4],
        [5012, 1.77e-4], [5012, 1.69e-4], [5483, 1.68e-4], [5800, 1.55e-4], [6080, 1.45e-4], [6194, 1.65e-4],
        [6194, 1.51e-4], [6431, 1.19e-4], [7467, 1.29e-4], [7612, 1.25e-4], [8594, 1.12e-4], [9007, 1.13e-4],
        [9561, 1.04e-4], [10268, 0.987e-4], [12409, 0.826e-4], [16182, 0.626e-4], [21790, 0.42e-4],
        [33070, 0.34e-4], [33070, 0.332e-4]
    ];
    const topErr = [
        [4422, 1.89e-4, 0.22e-4], [5483, 1.68e-4, 0.2e-4], [21790, 0.42e-4, 0.04e-4], [33070, 0.336e-4, 0.028e-4]
    ];
    const bottomPhot = [
        [1530, 4.77e-4], [2308, 4.77e-4], [3506, 5.14e-4], [4422, 4.51e-4], [4422, 4.27e-4], [4791, 4.68e-4],
        [4791, 4.12e-4], [5012, 4.68e-4], [5012, 4.43e-4], [5483, 3.86e-4], [5822, 3.99e-4], [6194, 3.81e-4],
        [6194, 3.2e-4], [7612, 3.17e-4], [7612, 3.07e-4], [8974, 2.82e-4], [12350, 2.16e-4], [12250, 2.12e-4],
        [16400, 1.65e-4], [16150, 1.6e-4], [21390, 1.82e-4], [33070, 1.29e-4], [45300, 1.01e-4]
    ];
    const bottomErr = [
        [4422, 4.3e-4, 1.35e-4], [5483, 3.8e-4, 1.0e-4], [16150, 1.6e-4, 0.33e-4], [16400, 1.65e-4, 0.3e-4],
        [21390, 1.82e-4, 0.4e-4]
    ];

    const starNames = ["PG1528+025", "PG 1654+322"];

    // tick values
    const xMajor = [1e3, 1e4];
    const xMinor = [2000, 3000, 4000, 5000, 6000, 7000, 8000, 9000, 20000, 30000, 40000];
    const topYMajor = [1e-5, 1e-4];
    const topYMinor = [2e-5, 3e-5, 4e-5, 5e-5, 6e-5, 7e-5, 8e-5, 9e-5, 2e-4, 3e-4];
    const bottomYMajor = [1e-5, 1e-4, 1e-3];
    const bottomYMinor = [2e-5, 3e-5, 4e-5, 5e-5, 6e-5, 7e-5, 8e-5, 9e-5,
        2e-4, 3e-4, 4e-4, 5e-4, 6e-4, 7e-4, 8e-4, 9e-4];

    // ---- layout ----------------------------------------------------------
    const plotLeft = 92, plotRight = 805;
    const svg = d3.select("#chart");

    const x = d3.scaleLog().domain([902, 49600]).range([plotLeft, plotRight]);

    const panels = [
        {
            id: "top", top: 16, bottom: 360, yDomain: [1e-5, 3.03e-4],
            model: topModel, phot: topPhot, err: topErr,
            yMajor: topYMajor, yMinor: topYMinor,
            name: starNames[0], nameX: 591, nameY: 87
        },
        {
            id: "bottom", top: 415, bottom: 749, yDomain: [1e-5, 1e-3],
            model: bottomModel, total: bottomTotal, companion: bottomCompanion,
            phot: bottomPhot, err: bottomErr,
            yMajor: bottomYMajor, yMinor: bottomYMinor,
            name: starNames[1], nameX: 590, nameY: 482
        }
    ];

    // expand [lambda, f, fLine] rows into a path that drops to the line and back
    function spectrumPoints(rows) {
        const pts = [];
        rows.forEach(r => {
            if (r.length === 2) pts.push([r[0], r[1]]);
            else pts.push([r[0], r[1]], [r[0], r[2]], [r[0], r[1]]);
        });
        return pts;
    }

    // matplotlib style "10^n" labels
    function powerLabel(textSel) {
        textSel.each(function (d) {
            const e = Math.round(Math.log10(d));
            const t = d3.select(this).text(null);
            t.append("tspan").text("10");
            t.append("tspan")
                .attr("dy", -6.5)
                .attr("font-size", 10)
                .text(e < 0 ? "\u2212" + (-e) : e);
        });
    }

    panels.forEach(p => {
        const y = d3.scaleLog().domain(p.yDomain).range([p.bottom, p.top]);
        const line = d3.line().x(d => x(d[0])).y(d => y(d[1]));

        svg.append("clipPath").attr("id", "clip-" + p.id)
            .append("rect")
            .attr("x", plotLeft).attr("y", p.top)
            .attr("width", plotRight - plotLeft).attr("height", p.bottom - p.top);

        const plot = svg.append("g").attr("clip-path", `url(#clip-${p.id})`);

        if (p.total) {
            plot.append("path")
                .datum(p.total)
                .attr("d", line)
                .attr("fill", "none")
                .attr("stroke", "#00bfbf")
                .attr("stroke-width", 2.4)
                .attr("stroke-linejoin", "round");
        }

        plot.append("path")
            .datum(spectrumPoints(p.model))
            .attr("d", line)
            .attr("fill", "none")
            .attr("stroke", "#0000ff")
            .attr("stroke-width", 1.5);

        if (p.companion) {
            plot.append("path")
                .datum(p.companion)
                .attr("d", line)
                .attr("fill", "none")
                .attr("stroke", "#008000")
                .attr("stroke-width", 0.9)
                .attr("stroke-opacity", 0.85);
        }

        plot.selectAll(".err")
            .data(p.err)
            .enter().append("line")
            .attr("x1", d => x(d[0])).attr("x2", d => x(d[0]))
            .attr("y1", d => y(d[1] - d[2])).attr("y2", d => y(d[1] + d[2]))
            .attr("stroke", "#000")
            .attr("stroke-opacity", 0.75)
            .attr("stroke-width", 2);

        plot.selectAll(".phot")
            .data(p.phot)
            .enter().append("circle")
            .attr("cx", d => x(d[0]))
            .attr("cy", d => y(d[1]))
            .attr("r", 5.3)
            .attr("fill", "#ff0000");

        // axes
        const xAxisG = svg.append("g").attr("transform", `translate(0,${p.bottom})`);
        xAxisG.append("g")
            .call(d3.axisBottom(x).tickValues(xMinor).tickSize(3).tickSizeOuter(0).tickFormat(""))
            .call(g => g.select(".domain").remove());
        xAxisG.append("g")
            .call(d3.axisBottom(x).tickValues(xMajor).tickSize(5).tickSizeOuter(0))
            .call(g => g.select(".domain").remove())
            .call(g => g.selectAll("text")
                .attr("y", 26).attr("dy", null)
                .attr("font-size", 14).attr("font-family", "DejaVu Sans")
                .call(powerLabel));

        const yAxisG = svg.append("g").attr("transform", `translate(${plotLeft},0)`);
        yAxisG.append("g")
            .call(d3.axisLeft(y).tickValues(p.yMinor).tickSize(3).tickSizeOuter(0).tickFormat(""))
            .call(g => g.select(".domain").remove());
        yAxisG.append("g")
            .call(d3.axisLeft(y).tickValues(p.yMajor).tickSize(5).tickSizeOuter(0))
            .call(g => g.select(".domain").remove())
            .call(g => g.selectAll("text")
                .attr("x", -12).attr("y", 6.5).attr("dy", null)
                .attr("font-size", 14).attr("font-family", "DejaVu Sans")
                .call(powerLabel));

        svg.selectAll(".tick line").attr("stroke", "#000");

        // frame
        svg.append("rect")
            .attr("x", plotLeft).attr("y", p.top)
            .attr("width", plotRight - plotLeft).attr("height", p.bottom - p.top)
            .attr("fill", "none")
            .attr("stroke", "#000")
            .attr("stroke-width", 1);

        // y label: f_lambda lambda^3 / erg A^2/cm^2/s
        const cy = (p.top + p.bottom) / 2;
        const yl = svg.append("text")
            .attr("transform", `translate(39,${cy}) rotate(-90)`)
            .attr("text-anchor", "middle")
            .attr("font-size", 15)
            .attr("fill", "#000");
        yl.append("tspan").attr("font-style", "italic").text("f");
        yl.append("tspan").attr("font-style", "italic").attr("font-size", 10.5).attr("dy", 3).text("λ");
        yl.append("tspan").attr("dy", -3).text("\u2009");
        yl.append("tspan").attr("font-style", "italic").text("λ");
        yl.append("tspan").attr("font-size", 10.5).attr("dy", -6.5).text("3");
        yl.append("tspan").attr("dy", 6.5).text(" / erg\u2009Å");
        yl.append("tspan").attr("font-size", 10.5).attr("dy", -6.5).text("2");
        yl.append("tspan").attr("dy", 6.5).text("/cm");
        yl.append("tspan").attr("font-size", 10.5).attr("dy", -6.5).text("2");
        yl.append("tspan").attr("dy", 6.5).text("/s");

        svg.append("text")
            .attr("x", p.nameX).attr("y", p.nameY)
            .attr("font-size", 18)
            .attr("fill", "#000")
            .text(p.name);
    });

    svg.append("text")
        .attr("x", (plotLeft + plotRight) / 2).attr("y", 803)
        .attr("text-anchor", "middle")
        .attr("font-size", 15)
        .attr("font-style", "italic")
        .attr("fill", "#000")
        .text("λ/Å");
</script>
</body>
</html>
